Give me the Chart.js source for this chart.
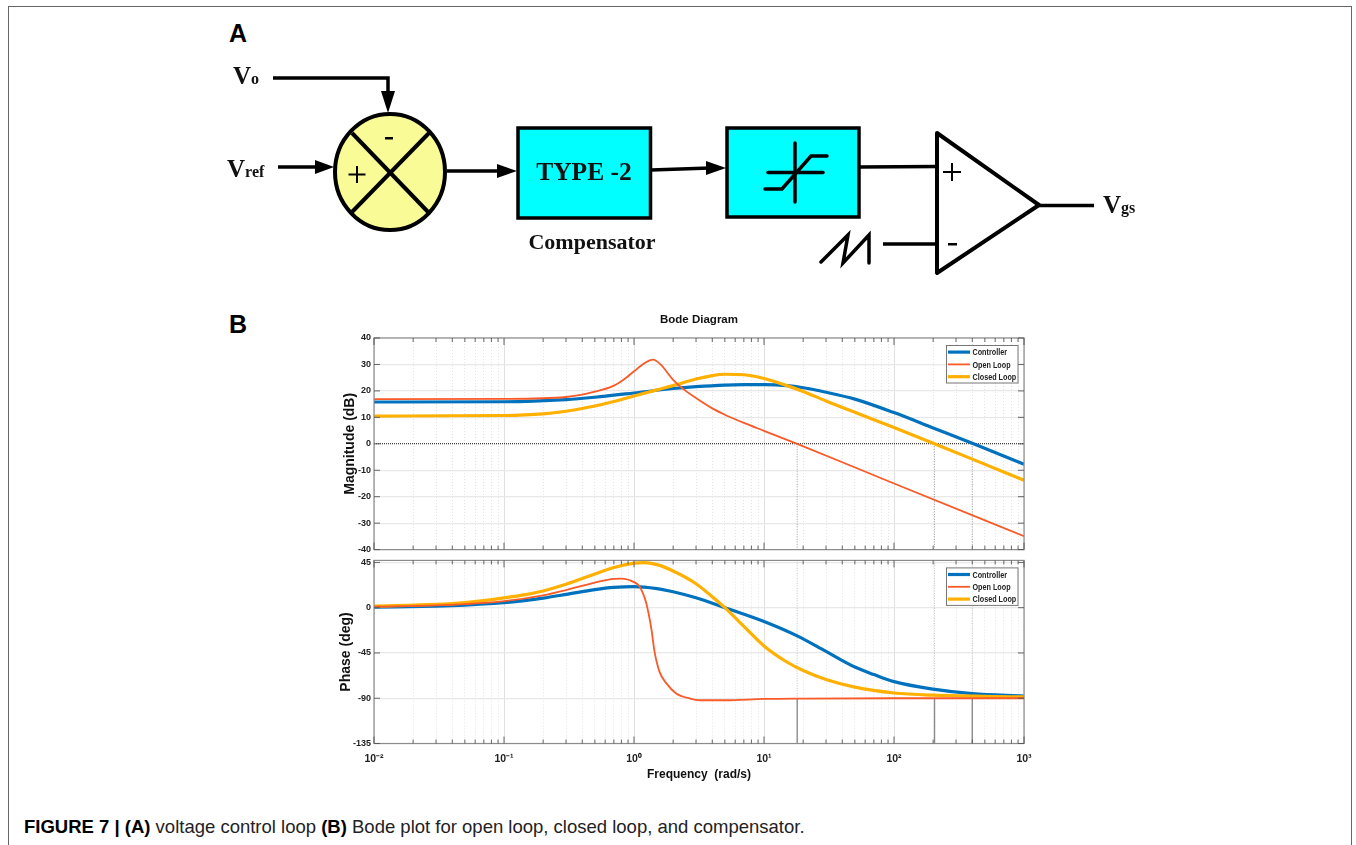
<!DOCTYPE html>
<html>
<head>
<meta charset="utf-8">
<title>Figure 7</title>
<script src="https://cdn.jsdelivr.net/npm/chart.js@4"></script>
<style>
    html, body { margin: 0; padding: 0; background: #fff; }
    body { width: 1356px; height: 845px; position: relative; overflow: hidden; font-family: "Liberation Sans", Arial, sans-serif; }
    #frame { position: absolute; left: 8px; top: 6px; width: 1344px; height: 839px; border: 1.5px solid #666; border-bottom: none; box-sizing: border-box; }
    #schematic { position: absolute; left: 0; top: 0; filter: blur(0.4px); }
    #magChart, #phaseChart { position: absolute; left: 330px; filter: blur(0.4px); }
    #magChart { top: 310px; }
    #phaseChart { top: 552px; }
    .panel { position: absolute; left: 229px; font: bold 25px "Liberation Sans", Arial, sans-serif; line-height: 25px; color: #000; }
    #caption { position: absolute; left: 24px; top: 818px; font-size: 18.5px; line-height: 18px; color: #222; white-space: pre; }
    #caption b { color: #000; }
    svg text { font-family: "Liberation Serif", "Times New Roman", serif; font-weight: bold; fill: #111; }
</style>
</head>
<body>
<div id="frame"></div>
<svg id="schematic" width="1356" height="845" xmlns="http://www.w3.org/2000/svg">
    <g fill="none" stroke="#000" stroke-width="3.5">
        <polyline points="273,78 388,78 388,95"/>
        <line x1="278" y1="167" x2="318" y2="167"/>
        <line x1="447" y1="171" x2="500" y2="171"/>
        <ellipse cx="390" cy="172" rx="55" ry="58" fill="#f9fb96" stroke-width="4"/>
        <line x1="352" y1="133" x2="430" y2="214" stroke-width="4"/>
        <line x1="430" y1="132" x2="352" y2="212" stroke-width="4"/>
        <rect x="518" y="128" width="132.5" height="90" fill="#00ffff"/>
        <rect x="727" y="128" width="132" height="89" fill="#00ffff"/>
        <line x1="651" y1="170" x2="710" y2="168"/>
        <line x1="795" y1="143" x2="795" y2="202" stroke-linecap="round"/>
        <line x1="768" y1="172.5" x2="823" y2="172.5" stroke-linecap="round"/>
        <polyline points="765,189 782,189 811,156 827,156" stroke-linecap="round"/>
        <line x1="859" y1="167" x2="937" y2="166.5"/>
        <polygon points="937,133 1039,205 937,273" stroke-width="4" stroke-linejoin="round"/>
        <line x1="1039" y1="205.5" x2="1094" y2="205.5"/>
        <polyline points="821,262 848,235 843,263 869,235 869,263" stroke-linecap="round"/>
        <line x1="883" y1="244" x2="937" y2="244"/>
    </g>
    <g fill="#000">
        <polygon points="381,91 395,91 388,113"/>
        <polygon points="315,160 315,174 334,167"/>
        <polygon points="497,164 497,178 517,171"/>
        <polygon points="706,161 706,175 726,168"/>
    </g>
    <g fill="none" stroke="#000" stroke-width="2">
        <line x1="357" y1="166" x2="357" y2="183"/>
        <line x1="348.5" y1="174.5" x2="365.5" y2="174.5"/>
        <line x1="952" y1="163" x2="952" y2="181"/>
        <line x1="943" y1="172" x2="961" y2="172"/>
    </g>
    <rect x="385" y="137" width="8" height="2.5" fill="#000"/>
    <rect x="948" y="243" width="9" height="2.5" fill="#000"/>
    <text x="233" y="84" font-size="25">V<tspan font-size="16">o</tspan></text>
    <text x="227" y="177" font-size="25">V<tspan font-size="16">ref</tspan></text>
    <text x="584" y="180" font-size="25.5" text-anchor="middle">TYPE -2</text>
    <text x="592" y="249" font-size="22" text-anchor="middle">Compensator</text>
    <text x="1103" y="213" font-size="25">V<tspan font-size="16">gs</tspan></text>
</svg>
<div class="panel" style="top:21px">A</div>
<div class="panel" style="top:312px">B</div>
<canvas id="magChart" width="738" height="248"></canvas>
<canvas id="phaseChart" width="738" height="240"></canvas>
<div id="caption"><b>FIGURE 7 | (A)</b> voltage control loop <b>(B)</b> Bode plot for open loop, closed loop, and compensator.</div>

<script>
// Frequency ticks (rad/s)
const freqTicks = [
    0.01, 0.02, 0.03, 0.04, 0.05, 0.06, 0.07, 0.08, 0.09,
    0.1, 0.2, 0.3, 0.4, 0.5, 0.6, 0.7, 0.8, 0.9,
    1, 2, 3, 4, 5, 6, 7, 8, 9,
    10, 20, 30, 40, 50, 60, 70, 80, 90,
    100, 200, 300, 400, 500, 600, 700, 800, 900,
    1000
];
const freqDecades = { 0.01: '10⁻²', 0.1: '10⁻¹', 1: '10⁰', 10: '10¹', 100: '10²', 1000: '10³' };
const magTicks = [-40, -30, -20, -10, 0, 10, 20, 30, 40];
const phaseTicks = [-135, -90, -45, 0, 45];

// Magnitude (dB)
const magControllerFreq = [0.01, 0.1, 0.3, 0.5, 1, 2, 3, 5, 7, 10, 15, 20, 30, 50, 100, 200, 400, 1000];
const magController = [15.8, 15.9, 16.7, 17.6, 19.2, 20.9, 21.6, 22.2, 22.35, 22.35, 22, 21.2, 19.5, 16.9, 11.8, 6, 0.2, -7.7];
const magOpenFreq = [0.01, 0.1, 0.3, 0.5, 0.7, 0.85, 1, 1.2, 1.4, 1.6, 2, 2.5, 3, 4, 5, 7, 10, 18, 100, 1000];
const magOpen = [16.9, 17, 17.7, 19.7, 22, 24.6, 27.4, 30.4, 31.8, 30, 24.2, 20, 17.3, 13.4, 11, 7.9, 4.9, 0, -15, -34.9];
const magClosedFreq = [0.01, 0.1, 0.2, 0.3, 0.5, 0.7, 1, 1.5, 2, 3, 4, 5, 7, 10, 15, 20, 30, 50, 100, 200, 400, 1000];
const magClosed = [10.5, 10.7, 11.3, 12.3, 14.3, 16, 18.1, 20.4, 22, 24.5, 25.8, 26.3, 26.1, 24.7, 22, 19.8, 16.2, 11.9, 6.2, 0.2, -5.8, -13.8];

// Phase (deg)
const phaseControllerFreq = [0.01, 0.03, 0.05, 0.1, 0.2, 0.3, 0.5, 0.7, 1, 1.5, 2, 3, 5, 10, 18, 30, 50, 70, 100, 200, 400, 1000];
const phaseController = [0.5, 1.6, 2.6, 4.9, 9.5, 13.2, 18, 20.2, 21, 19, 15.8, 9.8, 0, -13.7, -28, -43.5, -59, -66.5, -73.5, -81, -85.5, -87.8];
const phaseOpenFreq = [0.01, 0.03, 0.05, 0.1, 0.2, 0.3, 0.5, 0.7, 0.8, 1, 1.1, 1.24, 1.36, 1.44, 1.57, 1.77, 2.1, 2.7, 3.2, 5, 10, 20, 100, 1000];
const phaseOpen = [1, 2.2, 3.5, 6.5, 12.3, 17.5, 25, 28.7, 28.9, 25.4, 21.3, 4.9, -21, -44, -63.6, -75, -85, -90.4, -92, -92, -90.7, -90.3, -90, -90];
const phaseClosedFreq = [0.01, 0.03, 0.05, 0.1, 0.15, 0.2, 0.3, 0.5, 0.7, 1, 1.2, 1.5, 2, 3, 4, 5, 7, 10, 15, 20, 30, 50, 100, 200, 1000];
const phaseClosed = [1.5, 3.2, 5, 9.8, 13.3, 16.6, 23.2, 33.5, 40, 44.3, 44.8, 42.8, 36.5, 23.8, 10.8, 0, -18.6, -38, -54, -62.5, -71.4, -79, -84.8, -87, -88.7];

// Crossover frequencies marked by the margin lines
const crossovers = [18, 205, 400];

const seriesLabels = ['Controller', 'Open Loop', 'Closed Loop'];
const seriesColors = ['#0072bd', '#f95a28', '#ffb000'];
const seriesWidths = [3.2, 1.8, 3.2];
const seriesOrder = [3, 1, 2];

function toPoints(xs, ys) {
    return xs.map((x, i) => ({ x: x, y: ys[i] }));
}

function curveDatasets(pointLists) {
    return pointLists.map((points, i) => ({
        label: seriesLabels[i],
        data: points,
        borderColor: seriesColors[i],
        backgroundColor: seriesColors[i],
        borderWidth: seriesWidths[i],
        order: seriesOrder[i],
        pointRadius: 0,
        cubicInterpolationMode: 'monotone'
    }));
}

function guideDataset(freq, fromY, toY, color, width, dash) {
    return {
        data: toPoints([freq, freq], [fromY, toY]),
        borderColor: color,
        borderWidth: width,
        borderDash: dash,
        pointRadius: 0,
        order: 5
    };
}

// MATLAB style box: ticks point inward on all four sides
const boxTicks = {
    id: 'boxTicks',
    afterDraw(chart) {
        const { ctx, chartArea: a, scales } = chart;
        ctx.save();
        ctx.strokeStyle = '#8c8c8c';
        ctx.lineWidth = 1.2;
        ctx.strokeRect(a.left, a.top, a.right - a.left, a.bottom - a.top);
        ctx.strokeStyle = '#555';
        ctx.lineWidth = 0.9;
        ctx.beginPath();
        scales.x.ticks.forEach(t => {
            const px = scales.x.getPixelForValue(t.value);
            const len = t.major ? 7 : 4;
            ctx.moveTo(px, a.top);
            ctx.lineTo(px, a.top + len);
            ctx.moveTo(px, a.bottom);
            ctx.lineTo(px, a.bottom - len);
        });
        scales.y.ticks.forEach(t => {
            const py = scales.y.getPixelForValue(t.value);
            ctx.moveTo(a.left, py);
            ctx.lineTo(a.left + 6, py);
            ctx.moveTo(a.right, py);
            ctx.lineTo(a.right - 6, py);
        });
        ctx.stroke();
        ctx.restore();
    }
};

// Legend box in the top right corner of the axes
const cornerLegend = {
    id: 'cornerLegend',
    afterDraw(chart) {
        const { ctx, chartArea: a } = chart;
        const box = { left: a.right - 77.5, top: a.top + 7.5, width: 71.5, height: 37.5 };
        ctx.save();
        ctx.fillStyle = '#fff';
        ctx.fillRect(box.left, box.top, box.width, box.height);
        ctx.strokeStyle = '#777';
        ctx.lineWidth = 1;
        ctx.strokeRect(box.left, box.top, box.width, box.height);
        ctx.textBaseline = 'middle';
        seriesLabels.forEach((label, i) => {
            const y = box.top + 6.6 + i * 12.3;
            ctx.strokeStyle = seriesColors[i];
            ctx.lineWidth = seriesWidths[i];
            ctx.beginPath();
            ctx.moveTo(box.left + 1.5, y);
            ctx.lineTo(box.left + 23.5, y);
            ctx.stroke();
            ctx.save();
            ctx.translate(box.left + 26, y + 0.5);
            ctx.scale(0.76, 1);
            ctx.font = 'bold 9.5px "Liberation Sans", sans-serif';
            ctx.fillStyle = '#222';
            ctx.fillText(label, 0, 0);
            ctx.restore();
        });
        ctx.restore();
    }
};

function xAxis(position, axisHeight, titleText, titlePadding, showLabels) {
    return {
        type: 'logarithmic',
        position: position,
        min: 0.01,
        max: 1000,
        afterBuildTicks: scale => {
            scale.ticks = freqTicks.map(v => ({ value: v, major: v in freqDecades }));
        },
        afterFit: scale => { scale.height = axisHeight; },
        border: {
            display: false,
            dash: ctx => (ctx.tick && ctx.tick.major ? [] : [1, 2])
        },
        grid: {
            drawTicks: false,
            color: ctx => (ctx.tick && ctx.tick.major ? '#e0e0e0' : '#e4e4e4'),
            lineWidth: 1
        },
        ticks: {
            display: showLabels,
            autoSkip: false,
            maxRotation: 0,
            padding: 9,
            color: '#222',
            font: { family: '"Liberation Sans"', size: 10.5, weight: 'bold' },
            callback: v => freqDecades[v] || ''
        },
        title: {
            display: true,
            text: titleText,
            color: '#111',
            font: { family: '"Liberation Sans"', size: position === 'top' ? 11.5 : 12, weight: 'bold' },
            padding: titlePadding
        }
    };
}

function yAxis(title, titleGap, min, max, tickValues) {
    const isDottedZero = ctx => ctx.tick && ctx.tick.value === 0 && title === 'Magnitude (dB)';
    return {
        min: min,
        max: max,
        afterBuildTicks: scale => {
            scale.ticks = tickValues.map(v => ({ value: v }));
        },
        afterFit: scale => { scale.width = 44; },
        border: {
            display: false,
            dash: ctx => (isDottedZero(ctx) ? [1, 1] : [])
        },
        grid: {
            drawTicks: false,
            color: ctx => (isDottedZero(ctx) ? '#444' : '#e8e8e8'),
            lineWidth: 1.3
        },
        ticks: {
            padding: 3,
            color: '#222',
            font: { family: '"Liberation Sans"', size: 9, weight: 'bold' }
        },
        title: {
            display: true,
            text: title,
            color: '#111',
            font: { family: '"Liberation Sans"', size: 14, weight: 'bold' },
            padding: { top: titleGap, bottom: 0 }
        }
    };
}

document.addEventListener('DOMContentLoaded', function() {
    new Chart(document.getElementById('magChart'), {
        type: 'line',
        data: {
            datasets: curveDatasets([
                toPoints(magControllerFreq, magController),
                toPoints(magOpenFreq, magOpen),
                toPoints(magClosedFreq, magClosed)
            ]).concat(crossovers.map(f => guideDataset(f, 0, -40, '#9a9a9a', 1, [1, 1.5])))
        },
        options: {
            responsive: false,
            animation: false,
            layout: { padding: { top: 0, right: 44, bottom: 6, left: 0 } },
            plugins: { legend: { display: false }, tooltip: { enabled: false } },
            scales: {
                x: xAxis('top', 28, 'Bode Diagram', { top: 3, bottom: 0 }, false),
                y: yAxis('Magnitude (dB)', 12, -40, 40, magTicks)
            }
        },
        plugins: [boxTicks, cornerLegend]
    });

    new Chart(document.getElementById('phaseChart'), {
        type: 'line',
        data: {
            datasets: curveDatasets([
                toPoints(phaseControllerFreq, phaseController),
                toPoints(phaseOpenFreq, phaseOpen),
                toPoints(phaseClosedFreq, phaseClosed)
            ]).concat(crossovers.map(f => guideDataset(f, 47, -90, '#c0c0c0', 1, [1, 1.5])))
              .concat(crossovers.map(f => guideDataset(f, -90, -135, '#8a8a8a', 1.4, [])))
        },
        options: {
            responsive: false,
            animation: false,
            layout: { padding: { top: 5.5, right: 44, bottom: 0, left: 0 } },
            plugins: { legend: { display: false }, tooltip: { enabled: false } },
            scales: {
                x: xAxis('bottom', 48.5, 'Frequency  (rad/s)', { top: 0, bottom: 10 }, true),
                y: yAxis('Phase (deg)', 8, -135, 47, phaseTicks)
            }
        },
        plugins: [boxTicks, cornerLegend]
    });
});
</script>
</body>
</html>
